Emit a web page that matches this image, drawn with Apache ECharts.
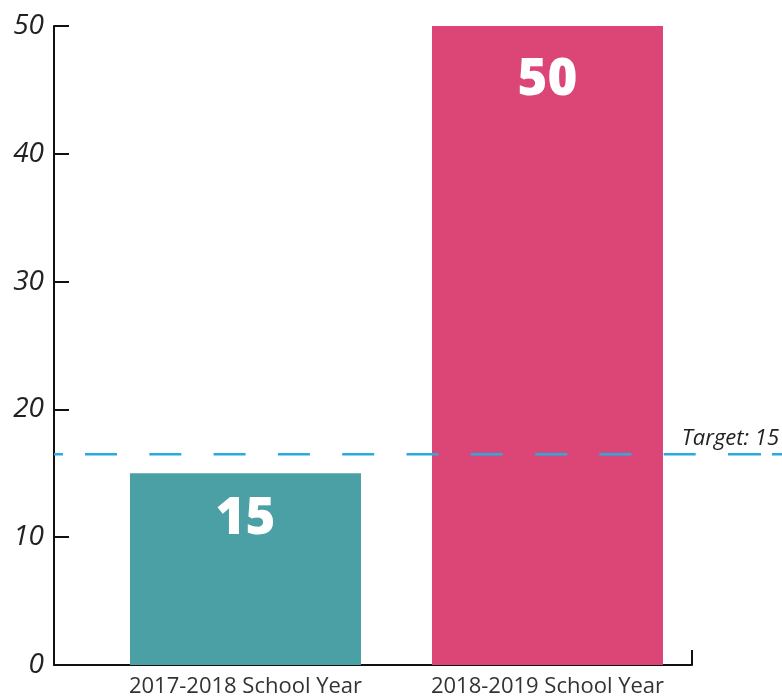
<!DOCTYPE html>
<html>
<head>
<meta charset="utf-8">
<script src="https://cdn.jsdelivr.net/npm/echarts@6/dist/echarts.min.js"></script>
<style>
html,body{margin:0;padding:0;background:#fff;}
#chart{width:782px;height:696px;}
</style>
</head>
<body>
<div id="chart"></div>
<script>
const categories = ['2017-2018 School Year', '2018-2019 School Year'];
const values = [15, 50];
const barColors = ['#4AA0A4', '#DC4677'];
const yTicks = [0, 10, 20, 30, 40, 50];
const targetValue = 16.5;
const targetText = 'Target: 15';

const FONT = '"Open Sans", sans-serif';
const labelDistances = [21, 29];

// dash pattern of the target line (style only)
const dashPattern = [9, 22];
for (let k = 0; k < 10; k++) { dashPattern.push(32, 32.3); }
dashPattern.push(33, 11, 12, 200);

const chart = echarts.init(document.getElementById('chart'), null, {renderer: 'canvas'});

const barData = values.map((v, i) => ({
  value: [i, v],
  itemStyle: {color: barColors[i]},
  label: {distance: labelDistances[i]}
}));

const option = {
  animation: false,
  backgroundColor: '#ffffff',
  grid: [
    {left: 54, right: 90, top: 26, bottom: 31, containLabel: false, outerBoundsMode: 'none'},
    {left: 54, right: 0, top: 26, bottom: 31, containLabel: false, outerBoundsMode: 'none'}
  ],
  xAxis: [
    {
      type: 'value', gridIndex: 0,
      min: -0.634, max: 1.4785,
      splitLine: {show: false},
      axisLine: {show: true, onZero: false, lineStyle: {color: '#111', width: 2}},
      axisTick: {show: true, inside: true, length: 15, lineStyle: {color: '#111', width: 2},
                 customValues: [1.4785]},
      axisLabel: {
        show: true, customValues: [0, 1], margin: 11,
        color: '#333', fontSize: 22, fontFamily: FONT,
        formatter: v => categories[Math.round(v)]
      }
    },
    {
      type: 'value', gridIndex: 1, min: 0, max: 1, show: false
    }
  ],
  yAxis: [
    {
      type: 'value', gridIndex: 0, min: yTicks[0], max: yTicks[yTicks.length - 1], interval: 10,
      splitLine: {show: false},
      axisLine: {show: true, onZero: false, lineStyle: {color: '#111', width: 2}},
      axisTick: {show: true, inside: true, length: 15, lineStyle: {color: '#111', width: 2}},
      axisLabel: {
        color: '#222', fontSize: 28, fontStyle: 'italic', fontFamily: FONT, margin: 10,
        padding: [4, 0, 0, 0]
      }
    },
    {
      type: 'value', gridIndex: 1, min: yTicks[0], max: yTicks[yTicks.length - 1], show: false
    }
  ],
  series: [
    {
      type: 'bar',
      xAxisIndex: 0, yAxisIndex: 0,
      barWidth: 231,
      data: barData,
      label: {
        show: true, position: 'insideTop',
        color: '#fff', fontSize: 51, fontWeight: 800, fontFamily: FONT,
        formatter: p => p.value[1]
      },
      z: 2
    },
    {
      type: 'line',
      xAxisIndex: 1, yAxisIndex: 1,
      symbol: 'none',
      silent: true,
      z: 5,
      lineStyle: {color: '#29ABE2', width: 2.5, type: dashPattern, dashOffset: 0},
      data: [[0, targetValue], [1, targetValue]],
      markLine: {
        silent: true,
        symbol: 'none',
        lineStyle: {color: 'rgba(0,0,0,0)', width: 0},
        data: [{yAxis: targetValue}],
        label: {
          show: true, formatter: targetText, position: 'insideEndTop', distance: [3, 4],
          color: '#222', fontSize: 22, fontStyle: 'italic', fontFamily: FONT
        }
      }
    }
  ]
};
chart.setOption(option);
</script>
</body>
</html>
